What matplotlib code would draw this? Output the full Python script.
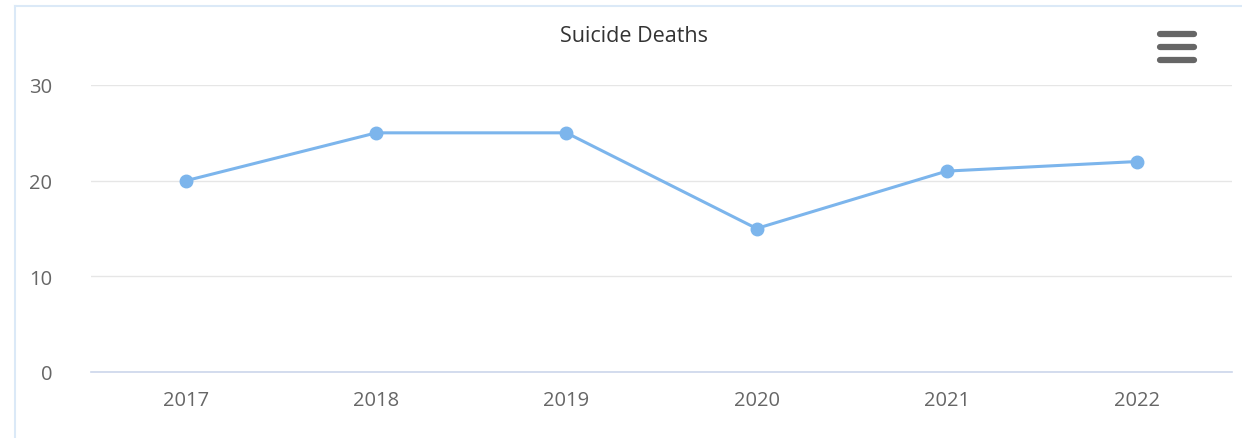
import matplotlib.pyplot as plt
from matplotlib.lines import Line2D

years = ["2017", "2018", "2019", "2020", "2021", "2022"]
deaths = [20, 25, 25, 15, 21, 22]
y_ticks = [0, 10, 20, 30]

plt.rcParams["font.family"] = ["Open Sans", "DejaVu Sans"]

fig = plt.figure(figsize=(12.42, 4.39), dpi=100)
ax = fig.add_axes([91 / 1242, 1 - 373 / 439, 1141 / 1242, 287 / 439])

x = range(len(years))
ax.plot(x, deaths, color="#7cb5ec", linewidth=2.2, marker="o", markersize=9,
        zorder=3, clip_on=False)

ax.set_xlim(-0.5, len(years) - 0.5)
ax.set_ylim(0, 30)
ax.set_xticks(list(x))
ax.set_xticklabels(years)
ax.set_yticks(y_ticks)
ax.grid(axis="y", color="#e6e6e6", linewidth=1)
ax.set_axisbelow(True)
for side in ["top", "right", "left"]:
    ax.spines[side].set_visible(False)
ax.spines["bottom"].set_color("#ccd6eb")
ax.spines["bottom"].set_linewidth(1.2)
ax.tick_params(axis="both", length=0, colors="#666666", labelsize=14.5)
ax.tick_params(axis="x", pad=13)
ax.tick_params(axis="y", pad=28)

fig.text(634 / 1242, 1 - 36 / 439, "Suicide Deaths", ha="center", va="center",
         fontsize=15.5, color="#333333")

# outer container border
fig.add_artist(Line2D([15 / 1242, 15 / 1242], [0, 1 - 7 / 439],
                      transform=fig.transFigure, color="#dbe9f7", linewidth=1.5))
fig.add_artist(Line2D([15 / 1242, 1], [1 - 7 / 439, 1 - 7 / 439],
                      transform=fig.transFigure, color="#dbe9f7", linewidth=1.5))

# menu icon
for yy in [35, 48, 61]:
    fig.add_artist(Line2D([1160 / 1242, 1194 / 1242], [1 - yy / 439, 1 - yy / 439],
                          transform=fig.transFigure, color="#666666",
                          linewidth=4.5, solid_capstyle="round"))

fig.savefig("out.png", dpi=100)
